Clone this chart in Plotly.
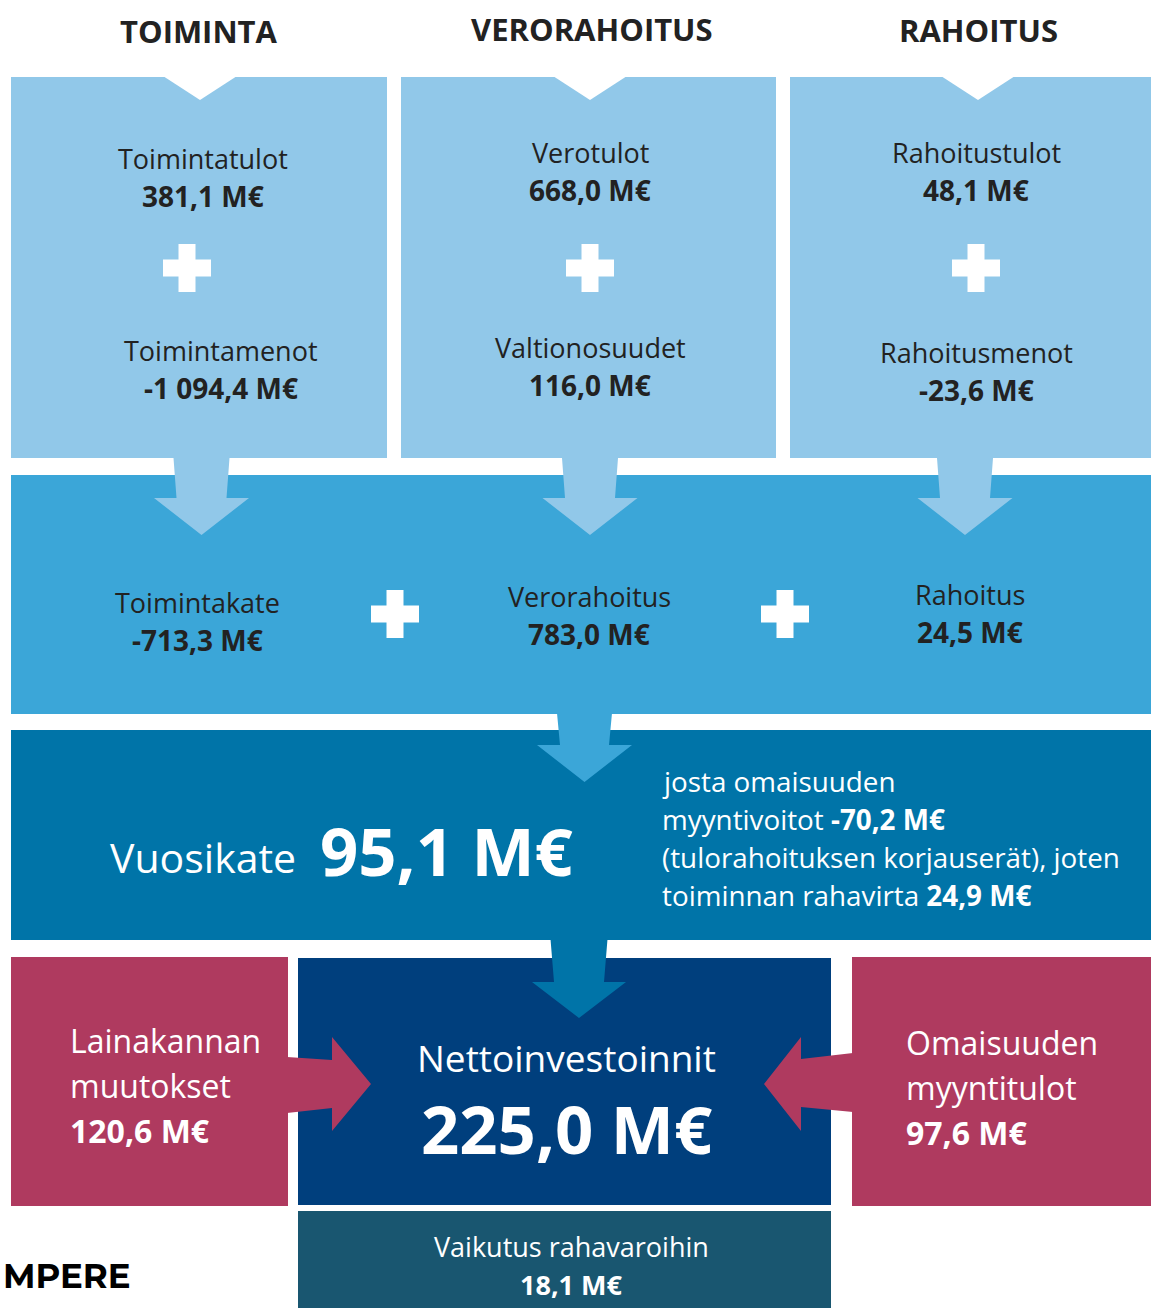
import plotly.graph_objects as go

# tekstit ja luvut (M€)
osiot = ["TOIMINTA", "VERORAHOITUS", "RAHOITUS"]
tulot_nimet = ["Toimintatulot", "Verotulot", "Rahoitustulot"]
tulot_arvot = [381.1, 668.0, 48.1]
menot_nimet = ["Toimintamenot", "Valtionosuudet", "Rahoitusmenot"]
menot_arvot = [-1094.4, 116.0, -23.6]
kate_nimet = ["Toimintakate", "Verorahoitus", "Rahoitus"]
kate_arvot = [-713.3, 783.0, 24.5]
vuosikate = 95.1
myyntivoitot = -70.2
toiminnan_rahavirta = 24.9
nettoinvestoinnit = 225.0
lainakanta_muutos = 120.6
omaisuus_myynti = 97.6
vaikutus_rahavaroihin = 18.1

W, H = 1151, 1308
FONT = "Open Sans"
VAALEA = "#91C8E9"
KESKI = "#3BA6D8"
VUOSI = "#0074A8"
NAVY = "#003F7D"
PINKKI = "#AF3A5F"
TEAL = "#195670"
TUMMA = "#222222"


def eur(v, dec=1):
    s = f"{v:,.{dec}f}".replace(",", " ").replace(".", ",")
    return s + " M€"


fig = go.Figure()
shapes = []
ann = []


def laatikko(x0, x1, y0, y1, col):
    shapes.append(dict(type="rect", xref="x", yref="y", x0=x0, x1=x1, y0=y0, y1=y1,
                       fillcolor=col, line_width=0, layer="above"))


def polku(pts, col):
    p = "M " + " L ".join(f"{x},{y}" for x, y in pts) + " Z"
    shapes.append(dict(type="path", xref="x", yref="y", path=p, fillcolor=col,
                       line_width=0, layer="above"))


def nuoli_alas(cx, y0, y1, y2, hw0, hw1, hh, col):
    polku([(cx - hw0, y0), (cx + hw0, y0), (cx + hw1, y1), (cx + hh, y1), (cx, y2),
           (cx - hh, y1), (cx - hw1, y1)], col)


def plus(cx, cy, s=48, t=17):
    laatikko(cx - s / 2, cx + s / 2, cy - t / 2, cy + t / 2, "white")
    laatikko(cx - t / 2, cx + t / 2, cy - s / 2, cy + s / 2, "white")


def teksti(x, y, txt, size, col=TUMMA, anchor="center"):
    ann.append(dict(x=x, y=y, xref="x", yref="y", text=txt, showarrow=False,
                    xanchor=anchor, yanchor="middle",
                    font=dict(family=FONT, size=size, color=col)))


# ylärivin laatikot
ylarivi = [(11, 387), (401, 776), (790, 1151)]
lovi = [200, 590, 978]
for (x0, x1), cx in zip(ylarivi, lovi):
    laatikko(x0, x1, 77, 458, VAALEA)
    polku([(cx - 37, 76), (cx + 37, 76), (cx, 100)], "white")

# keskikaista, vuosikate, alaosa
laatikko(11, 1151, 475, 714, KESKI)
laatikko(11, 1151, 730, 940, VUOSI)
laatikko(11, 288, 957, 1206, PINKKI)
laatikko(852, 1151, 957, 1206, PINKKI)
laatikko(298, 831, 958, 1205, NAVY)
laatikko(298, 831, 1211, 1310, TEAL)

# nuolet
for cx in [201.5, 590, 965]:
    nuoli_alas(cx, 458, 498, 535, 28, 25, 47.5, VAALEA)
nuoli_alas(584.5, 713, 745, 782, 27.5, 24.5, 47.5, KESKI)
nuoli_alas(579, 939, 982, 1018, 28.5, 25, 47, VUOSI)
polku([(287, 1057), (332, 1060), (332, 1037), (371, 1084), (332, 1131), (332, 1108), (287, 1113)], PINKKI)
polku([(853, 1053), (801, 1059), (801, 1037), (764, 1084), (801, 1131), (801, 1107), (853, 1112)], PINKKI)

# plus-merkit
for cx in [187, 590, 976]:
    plus(cx, 268)
plus(395, 614)
plus(785, 614)

# otsikot
for cx, cy, t in zip([199, 592, 978], [31, 29, 30], osiot):
    teksti(cx, cy, f"<b>{t}</b>", 31)

tx1 = [203, 590, 976]
ty1 = [158, 152, 152]
tx2 = [221, 590, 976]
ty2 = [350, 347, 352]
for i in range(3):
    teksti(tx1[i], ty1[i], tulot_nimet[i], 27)
    teksti(tx1[i], ty1[i] + 38, f"<b>{eur(tulot_arvot[i])}</b>", 28)
    teksti(tx2[i], ty2[i], menot_nimet[i], 27)
    teksti(tx2[i], ty2[i] + 38, f"<b>{eur(menot_arvot[i])}</b>", 28)

kx = [197, 589, 970]
ky = [602, 596, 594]
for i in range(3):
    teksti(kx[i], ky[i], kate_nimet[i], 27)
    teksti(kx[i], ky[i] + 38, f"<b>{eur(kate_arvot[i])}</b>", 28)

# vuosikate
teksti(108, 857, "Vuosikate", 41, "white", "left")
teksti(318, 850, f"<b>{eur(vuosikate)}</b>", 67, "white", "left")
rivit = ["josta omaisuuden",
         f"myyntivoitot <b>{eur(myyntivoitot)}</b>",
         "(tulorahoituksen korjauserät), joten",
         f"toiminnan rahavirta <b>{eur(toiminnan_rahavirta)}</b>"]
for i, r in enumerate(rivit):
    teksti(660, 781 + 38 * i, r, 27.8, "white", "left")

# alaosa
teksti(566, 1057, "Nettoinvestoinnit", 37, "white")
teksti(566, 1128, f"<b>{eur(nettoinvestoinnit)}</b>", 67, "white")
for i, r in enumerate(["Lainakannan", "muutokset", f"<b>{eur(lainakanta_muutos)}</b>"]):
    teksti(68, 1040 + 45 * i, r, 32, "white", "left")
for i, r in enumerate(["Omaisuuden", "myyntitulot", f"<b>{eur(omaisuus_myynti)}</b>"]):
    teksti(904, 1042 + 45 * i, r, 32, "white", "left")
teksti(571, 1246, "Vaikutus rahavaroihin", 27, "white")
teksti(571, 1284, f"<b>{eur(vaikutus_rahavaroihin)}</b>", 27, "white")

# logo
ann.append(dict(x=1, y=1276, xref="x", yref="y", text="<b>MPERE</b>", showarrow=False,
                xanchor="left", yanchor="middle",
                font=dict(family="Montserrat, Open Sans", size=34, color="black")))

fig.update_layout(
    width=W, height=H, margin=dict(l=0, r=0, t=0, b=0),
    paper_bgcolor="white", plot_bgcolor="white",
    xaxis=dict(range=[0, W], visible=False, fixedrange=True),
    yaxis=dict(range=[H, 0], visible=False, fixedrange=True),
    shapes=shapes, annotations=ann, showlegend=False,
)
fig.write_html("out.html", config=dict(displayModeBar=False),
               post_script="document.body.style.margin='0';document.body.style.overflow='hidden';")
